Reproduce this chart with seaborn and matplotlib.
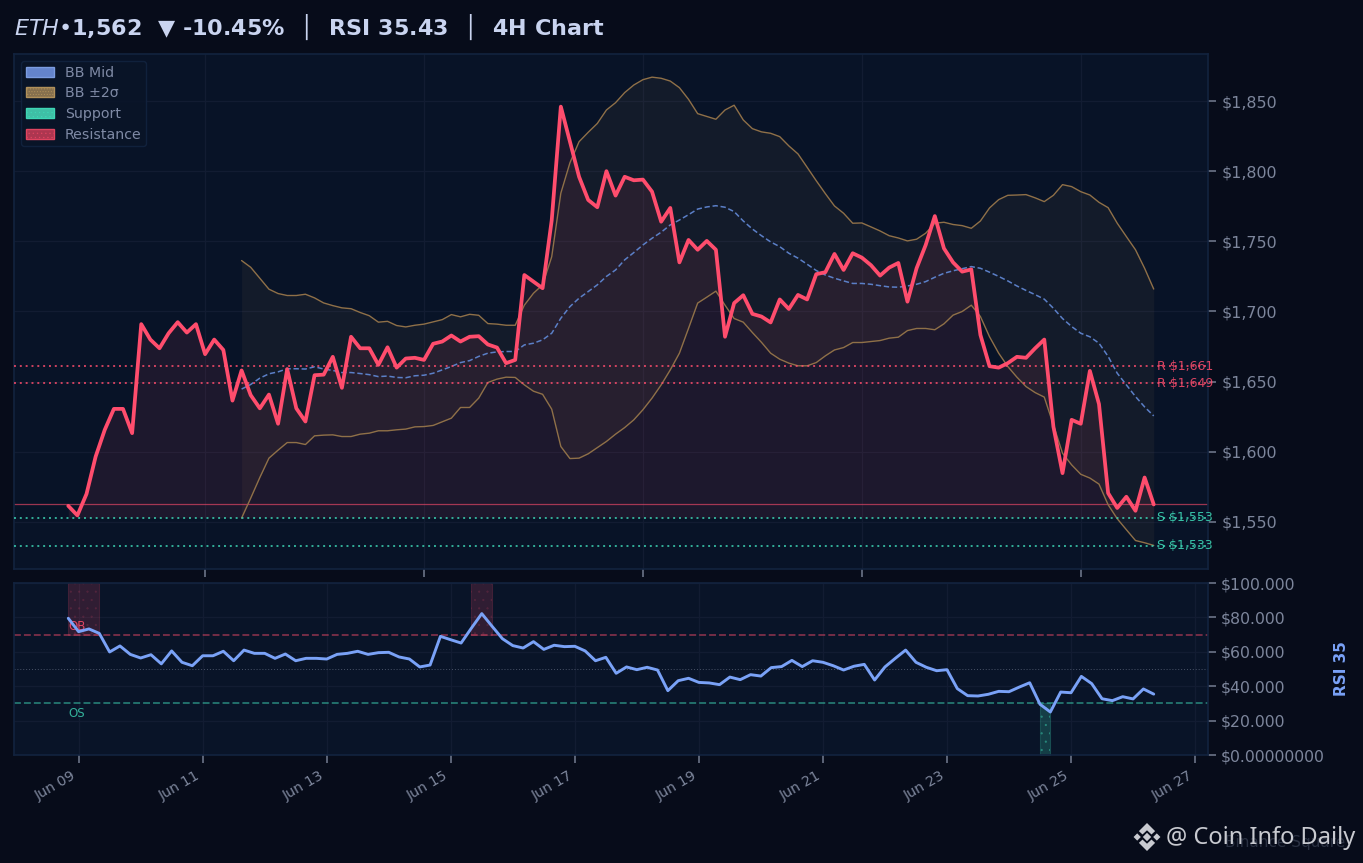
import matplotlib
matplotlib.use("Agg")
import matplotlib.pyplot as plt
import matplotlib.patches as mpatches
import matplotlib.dates as mdates
from matplotlib.ticker import FixedLocator
import numpy as np
import pandas as pd
import seaborn as sns

price = [1561.5,1554.7,1570,1596.6,1615.7,1630.6,1630.6,1613.3,1691,1680,1673.8,1684.5,1692.4,1685,1691,1669.6,1680,1672.6,1636.5,1658,
         1640.4,1631,1640.8,1620,1659,1631,1621.6,1654.6,1655,1667.7,1645.6,1682,1673.8,1673.8,1662,1674.5,1660,1666.5,1667,1665.5,
         1677,1678.6,1682.9,1678.6,1682,1682.4,1676.5,1674.3,1663.2,1665.5,1726,1721.3,1716.6,1765,1846,1821,1796,1779.5,1774.3,1800,
         1782.6,1796,1793.5,1794,1785.4,1764,1773.8,1735,1751,1744,1750.3,1744,1682,1706,1711.6,1698.3,1696.4,1692.2,1708.6,1701.8,
         1711.8,1708.6,1726.6,1728,1741,1729.6,1741.5,1738.4,1733,1725.6,1731.3,1734.6,1707,1730.8,1747.4,1768,1745,1735,1728.4,1730,
         1683.3,1661,1660,1663.2,1667.7,1667,1673.8,1680,1618,1584.8,1622.8,1620,1657.7,1634,1570.6,1560,1568,1558,1581.7,1562.5]

bb_upper = [1736.3,1731.5,1723.7,1715.9,1712.8,1711.4,1711.4,1712.3,1709.7,1706.1,1704.2,1702.6,1702,1699.3,1697,1692.4,1693,1690,1689,1690.2,1691,
            1692.6,1694.2,1697.8,1696.2,1698,1697.3,1691.4,1691,1690.2,1690.2,1704.5,1713,1719,1739,1784.3,1806,1821,1827.7,1834,1843.6,
            1848.8,1856,1861.4,1865.2,1867,1866.2,1864.2,1859.5,1851.2,1841,1839,1837,1843.6,1847,1836.5,1830.3,1828,1827,1824.6,1818,
            1812.3,1802.8,1793.2,1784,1775.2,1770,1762.9,1763.1,1760.3,1757.4,1754,1752.4,1750.3,1751.5,1755.8,1762.9,1763.6,1762,1761.2,1759.3,
            1764.5,1773.8,1779.7,1782.8,1783,1783.3,1781,1778.3,1782.8,1790.4,1789,1785.4,1783,1777.8,1774,1762.9,1753.4,1744,1730.8,1716]

bb_lower = [1552.8,1567,1581.7,1595.5,1601.2,1606.6,1606.6,1605.2,1611.4,1611.9,1612.1,1610.9,1610.9,1612.6,1613.3,1615,1615,1615.7,1616.2,1617.8,1618,
            1618.8,1621.4,1624,1631.6,1631.6,1638.3,1649.4,1651.8,1653.2,1653,1647.7,1643.2,1641,1630.4,1603.8,1595.2,1595.5,1598.6,1603,1607.4,
            1612.6,1617.3,1622.8,1630,1638.3,1647.7,1658.4,1670.3,1688,1706,1710.2,1714.5,1704.5,1695,1692.4,1685,1678,1670.3,1666,1663.2,
            1661.3,1661.3,1663.6,1668.4,1672.6,1674.3,1677.9,1677.9,1678.6,1679.3,1681,1681.7,1686.4,1687.9,1687.9,1687,1691.2,1697.4,1700,1704.5,
            1696.4,1682,1670.3,1660.8,1653.2,1646.5,1642.2,1639,1619.2,1599,1590.7,1584,1581.3,1577,1562.3,1552.3,1544.5,1536.8,1535.2,1533.3]

bb_mid = [1644.7,1648,1652.5,1655.6,1657,1659.2,1659.2,1659,1660.6,1659,1658,1656.5,1656.5,1655.8,1655,1653.6,1654,1653,1652.8,1654.2,1654.6,
          1656,1658.4,1660.8,1663.6,1665,1668,1670.3,1671.2,1671.5,1671.5,1676.2,1677.4,1679.8,1684.5,1695.2,1703.5,1709.5,1714.2,1719,1725,
          1729.6,1736.8,1742,1747.4,1752.2,1756.5,1761.7,1765.2,1769,1773,1774.5,1775.4,1774.3,1771.2,1764.5,1758.8,1754,1749.6,1746.2,1741.5,
          1738,1733.7,1729.2,1726,1723.7,1721.8,1720,1720,1719.4,1718.4,1717.5,1717.3,1718.2,1719.4,1721.3,1724.4,1727.2,1729,1730.5,1732,
          1730.8,1728,1725,1721.8,1718.2,1715,1712,1708.8,1702.3,1695,1689.3,1684.5,1682,1677.4,1668,1656,1647.7,1639.4,1632,1625.6]

rsi = [79.5,71.7,73.3,70.7,59.9,63.4,58.5,56.4,58.3,53,60.5,53.9,51.9,57.7,57.7,60.3,54.8,61,59.1,59.1,56.2,58.7,54.8,56.2,56.2,55.8,58.5,59.1,60.3,58.5,
       59.5,59.7,57,55.8,51.2,52.3,69,67,65.1,73.8,82.2,74.8,67.6,63.6,62.2,65.9,61.4,63.8,63,63.2,60.5,54.8,56.8,47.5,51.2,49.6,51,49.4,37.4,43.2,
       44.6,42.2,41.9,40.9,45.3,43.8,46.7,45.9,50.8,51.4,55,51.4,54.8,53.9,51.9,49.4,51.6,52.7,43.6,51.2,56.2,61,53.9,51,49,49.6,38.6,34.5,34.3,35.3,
       37,36.8,39.5,42,29.5,25,36.6,36.2,45.7,41.5,32.7,31.6,33.9,32.6,38.4,35.4]

resistance_levels = [1661, 1649]
support_levels = [1553, 1533]
last_price = 1562.8
fill_base = 1553
price_ticks = [1550, 1600, 1650, 1700, 1750, 1800, 1850]
rsi_ticks = [0, 20, 40, 60, 80, 100]
rsi_labels = ["$0.00000000", "$20.000", "$40.000", "$60.000", "$80.000", "$100.000"]
top_ticks = ["2023-06-11", "2023-06-15", "2023-06-19", "2023-06-23", "2023-06-27"]
bottom_ticks = ["2023-06-09", "2023-06-11", "2023-06-13", "2023-06-15", "2023-06-17", "2023-06-19",
                "2023-06-21", "2023-06-23", "2023-06-25", "2023-06-27"]

BG = "#070c1a"; PANEL = "#081327"; PANEL2 = "#091428"; SPINE = "#12233f"; GRID = "#121c32"
RED = "#ff4d6d"; TEAL = "#3dd6b5"; TAN = "#8f7048"; MID = "#5b7fc7"; TICK = "#7d869c"; RSI_C = "#7aa2f7"

sns.set_style("dark")
plt.rcParams["font.family"] = ["DejaVu Sans"]
plt.rcParams["hatch.linewidth"] = 0.4
W, H = 1363, 863
fig = plt.figure(figsize=(W / 100, H / 100), dpi=100, facecolor=BG)

def box(x0, y0, x1, y1):
    return [x0 / W, 1 - y1 / H, (x1 - x0) / W, (y1 - y0) / H]

ax = fig.add_axes(box(14, 54, 1208, 569))
ax2 = fig.add_axes(box(14, 583, 1208, 755))

t_price = pd.date_range("2023-06-08 12:00", periods=len(price), freq="4h")
t_bb = t_price[len(price) - len(bb_mid):]
t_rsi = pd.date_range("2023-06-08 20:00", periods=len(rsi), freq="4h")
price_a = np.array(price); rsi_a = np.array(rsi)

# --- price panel
ax.fill_between(t_bb, bb_lower, bb_upper, color="#c9a36a", alpha=0.06, lw=0, zorder=1)
ax.fill_between(t_price, price_a, fill_base, color=RED, alpha=0.085, lw=0, zorder=1.5)
for band in (bb_upper, bb_lower):
    sns.lineplot(x=t_bb, y=band, ax=ax, color=TAN, lw=1.0, zorder=3)
sns.lineplot(x=t_bb, y=bb_mid, ax=ax, color=MID, lw=1.1, ls=(0, (3.5, 1.8)), zorder=3)
ax.axhline(last_price, color=RED, lw=0.9, alpha=0.6, zorder=2.5)
sns.lineplot(x=t_price, y=price, ax=ax, color=RED, lw=2.7, zorder=5)
ax.margins(x=0.05)
ax.set_ylim(1516.5, 1883.5)

label_x = t_price[-1] + pd.Timedelta(hours=1.5)
for lv in resistance_levels:
    ax.text(label_x, lv, f"R ${lv:,}", color=RED, alpha=0.85, fontsize=9, va="center", ha="left", zorder=4, clip_on=False)
    ax.axhline(lv, color=RED, lw=1.4, alpha=0.8, ls=(0, (1, 2)), zorder=4)
for lv in support_levels:
    ax.text(label_x, lv, f"S ${lv:,}", color=TEAL, alpha=0.9, fontsize=9, va="center", ha="left", zorder=4, clip_on=False)
    ax.axhline(lv, color=TEAL, lw=1.4, alpha=0.8, ls=(0, (1, 2)), zorder=4)

# --- RSI panel
ax2.fill_between(t_rsi, 70, 100, where=rsi_a >= 70, facecolor=RED, edgecolor=RED, alpha=0.16, lw=0.8, zorder=1)
ax2.fill_between(t_rsi, 0, 30, where=rsi_a <= 30, facecolor=TEAL, edgecolor=TEAL, alpha=0.22, lw=0.8, zorder=1)
ax2.fill_between(t_rsi, 70, 100, where=rsi_a >= 70, facecolor="none", edgecolor=RED, alpha=0.12, hatch="..", lw=0, zorder=1)
ax2.fill_between(t_rsi, 0, 30, where=rsi_a <= 30, facecolor="none", edgecolor=TEAL, alpha=0.4, hatch="..", lw=0, zorder=1)
ax2.axhline(70, color=RED, lw=1.1, alpha=0.55, ls=(0, (4.5, 2)), zorder=2)
ax2.axhline(30, color=TEAL, lw=1.1, alpha=0.6, ls=(0, (4.5, 2)), zorder=2)
ax2.axhline(50, color="#8a93a8", lw=0.7, alpha=0.5, ls=(0, (1, 2)), zorder=2)
sns.lineplot(x=t_rsi, y=rsi, ax=ax2, color=RSI_C, lw=2.1, zorder=4)
ax2.margins(x=0.05)
ax2.set_ylim(0, 100)
ax2.text(t_rsi[0], 71, "OB", color=RED, alpha=0.85, fontsize=8.5, va="bottom", ha="left")
ax2.text(t_rsi[0], 28, "OS", color=TEAL, alpha=0.8, fontsize=8.5, va="top", ha="left")

# --- axes styling
for a, face in ((ax, PANEL), (ax2, PANEL2)):
    a.set_facecolor(face)
    a.set_xlabel(""); a.set_ylabel("")
    a.grid(True, color=GRID, lw=0.9)
    a.set_axisbelow(True)
    a.yaxis.tick_right()
    for s in a.spines.values():
        s.set_color(SPINE); s.set_linewidth(1.2); s.set_visible(True)
    a.tick_params(axis="both", colors="#6b7488", labelcolor=TICK, length=6, width=1.2, left=False, right=True, bottom=True)

ax.xaxis.set_major_locator(FixedLocator(mdates.date2num(pd.to_datetime(top_ticks))))
ax.tick_params(axis="x", labelbottom=False)
ax.set_yticks(price_ticks)
ax.set_yticklabels([f"${v:,}" for v in price_ticks], fontsize=11.4)

ax2.xaxis.set_major_locator(FixedLocator(mdates.date2num(pd.to_datetime(bottom_ticks))))
ax2.xaxis.set_major_formatter(mdates.DateFormatter("%b %d"))
ax2.set_yticks(rsi_ticks)
ax2.set_yticklabels(rsi_labels, fontsize=11.3)
plt.setp(ax2.get_xticklabels(), rotation=30, ha="right", fontsize=10.2, color=TICK)

# --- legend
handles = [
    mpatches.Patch(facecolor="#6484cc", edgecolor="#7b9ce0", label="BB Mid"),
    mpatches.Patch(facecolor="#86704e", edgecolor="#b0905a", hatch="......", label="BB ±2σ"),
    mpatches.Patch(facecolor="#3fbfa6", edgecolor=TEAL, hatch="....", label="Support"),
    mpatches.Patch(facecolor="#ad3650", edgecolor="#e04460", hatch="....", label="Resistance"),
]
leg = ax.legend(handles=handles, loc="upper left", bbox_to_anchor=(0.00586, 0.9864), borderaxespad=0,
                fontsize=10.2, labelcolor="#7f8aa5", facecolor="#0a1528", edgecolor=SPINE,
                framealpha=0.9, labelspacing=0.47, handlelength=2.0, handletextpad=0.78, borderpad=0.32)
leg.get_frame().set_linewidth(1.0)

# --- header and outer text
fig.text(14 / W, 1 - 27 / H, r"$\mathit{ETH}$•1,562  ▼ -10.45%  │  RSI 35.43  │  4H Chart",
         color="#c9d4f0", fontsize=16.05, fontweight="bold", va="center", ha="left")
fig.text(1341 / W, 1 - 669 / H, "RSI 35", color=RSI_C, fontsize=11, fontweight="bold", rotation=90, va="center", ha="center")
fig.text(1345 / W, 1 - 842 / H, "Binance Square", color="#2a3142", fontsize=11, va="center", ha="right")
fig.text(1355 / W, 1 - 838 / H, "@ Coin Info Daily", color="#c8cad0", fontsize=17, family="Noto Sans", va="center", ha="right")

# --- logo
logo = fig.add_axes(box(1133, 823, 1161, 851))
logo.set_xlim(-1, 1); logo.set_ylim(-1, 1); logo.axis("off")
LOGO = "#c8cad0"
shapes = [
    [(0, .3), (.3, 0), (0, -.3), (-.3, 0)],
    [(-.7, .26), (-.44, 0), (-.7, -.26), (-.96, 0)],
    [(.7, .26), (.96, 0), (.7, -.26), (.44, 0)],
    [(0, 1), (.58, .42), (.32, .18), (0, .48), (-.32, .18), (-.58, .42)],
    [(0, -1), (.58, -.42), (.32, -.18), (0, -.48), (-.32, -.18), (-.58, -.42)],
]
for s in shapes:
    logo.add_patch(mpatches.Polygon(s, closed=True, facecolor=LOGO, edgecolor="none"))

fig.savefig("out.png", dpi=100, facecolor=BG)
